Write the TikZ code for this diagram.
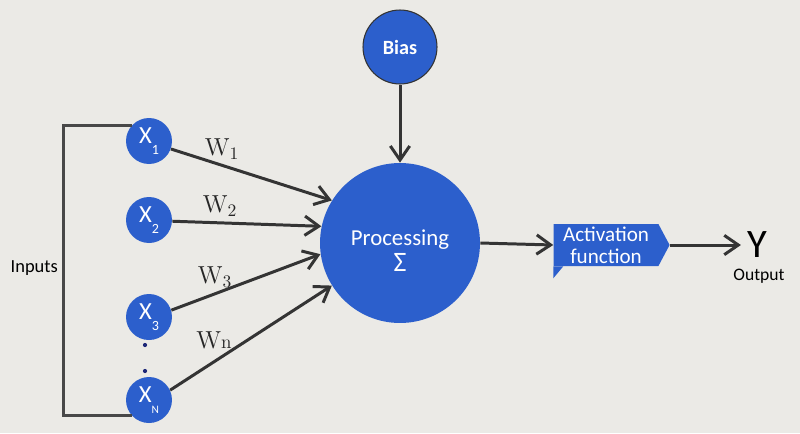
\documentclass[tikz,border=0pt]{standalone}
\usepackage{fontspec}
\usepackage{tikz}
\usetikzlibrary{arrows.meta,positioning,shapes.symbols}
\newfontfamily\calfont{Carlito}
\definecolor{bgpaper}{RGB}{235,234,230}
\definecolor{nodeblue}{RGB}{44,95,204}
\definecolor{linegray}{RGB}{52,52,52}
\definecolor{dotblue}{RGB}{30,40,120}

\begin{document}
\begin{tikzpicture}[
        x=0.02cm,y=-0.02cm,
        neuron/.style={circle,fill=nodeblue,text=white,inner sep=0pt,font=\calfont},
        inputnode/.style={neuron,minimum size=0.92cm,font=\calfont\fontsize{14}{15}\selectfont},
        dot/.style={circle,fill=dotblue,inner sep=0pt,minimum size=2.4pt},
        link/.style={-{Straight Barb[length=8pt,width=11pt,line width=1.7pt]},line width=1.7pt,draw=linegray},
        bracket/.style={line width=1.7pt,draw=linegray!90},
        weight/.style={font=\fontsize{14}{15}\selectfont,text=black!85}
    ]
        \useasboundingbox[fill=bgpaper] (0,0) rectangle (800,433);

        \node[neuron,minimum size=3.2cm,font=\calfont\fontsize{13}{16}\selectfont] (proc) at (400,243)
            {\raisebox{-0.2cm}[\height][\depth]{\begin{tabular}{@{}c@{}}Processing\\[-1pt]{\fontsize{16}{16}\selectfont Σ}\end{tabular}}};
        \node[neuron,draw=black!80,line width=0.6pt,minimum size=1.48cm,font=\calfont\bfseries\fontsize{11.5}{12}\selectfont] (bias) at (400,47) {Bias};

        \node[inputnode] (x1) at (149,141) {X\raisebox{-0.9ex}{\fontsize{8}{8}\selectfont 1}};
        \node[inputnode] (x2) at (149,220) {X\raisebox{-0.9ex}{\fontsize{8}{8}\selectfont 2}};
        \node[inputnode] (x3) at (149,317) {X\raisebox{-0.9ex}{\fontsize{8}{8}\selectfont 3}};
        \node[inputnode] (xn) at (149,400) {X\raisebox{-0.9ex}{\fontsize{6.5}{7}\selectfont N}};
        \node[dot] (dot1) at (145,345) {};
        \node[dot] (dot2) at (145,371) {};

        \node[font=\calfont\fontsize{10.5}{11}\selectfont,anchor=east] (inputs) at (64,268) {Inputs};

        \node[signal,signal to=east,signal from=nowhere,signal pointer angle=124,fill=nodeblue,text=white,
              minimum width=2.32cm,minimum height=0.84cm,inner sep=1pt,align=center,
              font=\calfont\fontsize{12}{12.5}\selectfont] (act) at (606,245) {Activation\\function};
        \node[font=\calfont\fontsize{23}{24}\selectfont] (yout) at (757,245) {Y};
        \node[font=\calfont\fontsize{10}{11}\selectfont] (outlbl) at (759,276) {Output};

        \node[weight] (w1) at (222,149) {W$_1$};
        \node[weight] (w2) at (220,206) {W$_2$};
        \node[weight] (w3) at (215,277) {W$_3$};
        \node[weight] (wn) at (214,340) {W{\fontsize{11}{11}\selectfont n}};

        \draw[bracket] (x1.137) -- ++(-68,0) |- (xn.223);

        \draw[link] (x1.-20) -- (proc.148);
        \draw[link] (x2.-3) -- (proc.168);
        \draw[link] (x3.17) -- (proc.-172);
        \draw[link] (xn.25) -- (proc.-148);
        \draw[link] (bias) -- (proc);
        \draw[link] (proc.east) -- (act.west);
        \draw[link] (act.east) -- (yout.west);

        \fill[nodeblue] (act.south west) -- ++(0,12) -- ++(10,-12) -- cycle;
    \end{tikzpicture}
\end{document}
